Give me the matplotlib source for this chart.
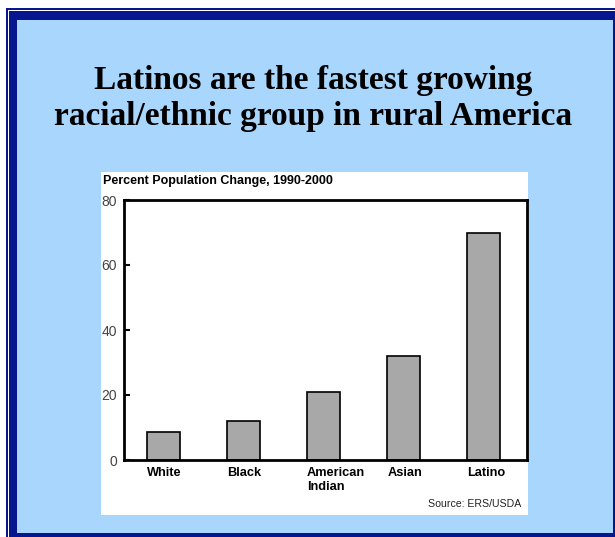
import matplotlib.pyplot as plt
from matplotlib.patches import Rectangle

plt.rcParams["font.family"] = ["Liberation Sans", "DejaVu Sans"]

# 1990-2000 农村人口变化(%)
groups = ["White", "Black", "American\nIndian", "Asian", "Latino"]
change = [8.5, 12, 21, 32, 70]
yticks = [0, 20, 40, 60, 80]

W, H = 615, 537
DARK = "#06168f"
LIGHT = "#a9d6fd"


def box(fig, x0, y0, x1, y1, color):
    """按像素坐标(左上原点)画矩形。"""
    fig.patches.append(Rectangle((x0 / W, 1 - y1 / H), (x1 - x0) / W, (y1 - y0) / H,
                                 transform=fig.transFigure, facecolor=color,
                                 edgecolor="none", zorder=0))


fig = plt.figure(figsize=(W / 100, H / 100), dpi=100, facecolor="white")

# 外框:细线 + 白缝 + 粗框 + 浅蓝底
box(fig, 5.5, 8, W, H, DARK)
box(fig, 7.5, 10, W, H, "white")
box(fig, 8.5, 11, W, H, DARK)
box(fig, 17, 20, 613, 533, LIGHT)
# 图表白底
box(fig, 101, 172, 528, 515, "white")

serif = ["Liberation Serif", "DejaVu Serif"]
fig.text(313 / W, 1 - 81 / H, "Latinos are the fastest growing",
         ha="center", va="center", fontsize=24, fontweight="bold",
         family=serif, color="black")
fig.text(313 / W, 1 - 117 / H, "racial/ethnic group in rural America",
         ha="center", va="center", fontsize=24, fontweight="bold",
         family=serif, color="black")

ax = fig.add_axes([124 / W, 1 - 460 / H, (527 - 124) / W, (460 - 200) / H])
ax.set_zorder(2)
ax.set_facecolor("white")
x = list(range(len(groups)))
ax.bar(x, change, width=0.41, color="#a8a8a8", edgecolor="black", linewidth=1.2)
ax.set_xlim(-0.49, 4.54)
ax.set_ylim(0, 80)
ax.set_yticks(yticks)
ax.set_yticklabels([str(v) for v in yticks], fontsize=10, color="#444444")
ax.tick_params(axis="y", direction="in", length=4, width=1.5, pad=5)
ax.set_xticks([])
for s in ax.spines.values():
    s.set_linewidth(2)
    s.set_color("black")

# 类别标签左对齐于柱子左缘
for xi, name in zip(x, groups):
    ax.text(xi - 0.205, -2.2, name, ha="left", va="top", fontsize=9.2,
            fontweight="bold", clip_on=False, linespacing=1.2)

fig.text(103 / W, 1 - 181 / H, "Percent Population Change, 1990-2000",
         ha="left", va="center", fontsize=9, fontweight="bold")
fig.text(521 / W, 1 - 504 / H, "Source: ERS/USDA", ha="right", va="center",
         fontsize=7.6, color="#222222")

fig.savefig("out.png", dpi=100, facecolor="white")
